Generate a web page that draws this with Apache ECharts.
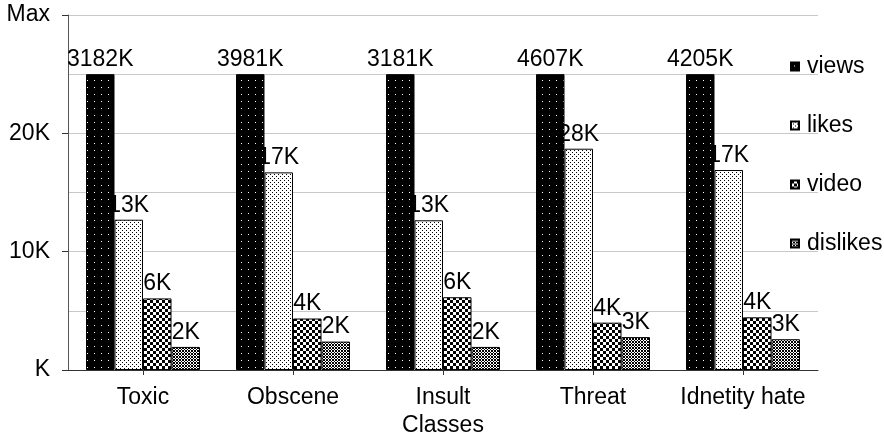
<!DOCTYPE html>
<html>
<head>
<meta charset="utf-8">
<style>html,body{margin:0;padding:0;background:#fff;}#chart{width:884px;height:433px;}</style>
<script src="https://cdn.jsdelivr.net/npm/echarts@6/dist/echarts.min.js"></script>
</head>
<body>
<div id="chart"></div>
<script>
// ---- data ----
const categories = ['Toxic', 'Obscene', 'Insult', 'Threat', 'Idnetity hate'];
const axisName = 'Classes';
const seriesNames = ['views', 'likes', 'video', 'dislikes'];
// views bars are drawn cut off at the 25K line
const viewsDrawn = [25000, 25000, 25000, 25000, 25000];
const likes = [12700, 16700, 12650, 18700, 16900];
const video = [6050, 4350, 6150, 4000, 4450];
const dislikes = [1950, 2400, 1950, 2780, 2600];
const viewsLabels = ['3182K', '3981K', '3181K', '4607K', '4205K'];
const likesLabels = ['13K', '17K', '13K', '28K', '17K'];
const videoLabels = ['6K', '4K', '6K', '4K', '4K'];
const dislikesLabels = ['2K', '2K', '2K', '3K', '3K'];
const yTickValues = [0, 10000, 20000, 30000];
const yTickLabels = ['K', '10K', '20K', 'Max'];

// ---- patterns ----
function makeTile(w, h, bg, fg, pts) {
  const c = document.createElement('canvas');
  c.width = w; c.height = h;
  const ctx = c.getContext('2d');
  ctx.fillStyle = bg; ctx.fillRect(0, 0, w, h);
  ctx.fillStyle = fg;
  pts.forEach(p => ctx.fillRect(p[0], p[1], p[2] || 1, p[3] || 1));
  return { image: c, repeat: 'repeat' };
}
const patViews = makeTile(7, 7, '#000', '#fff', [[3, 3]]);
const patLikes = makeTile(4, 4, '#fff', '#000', [[0, 0], [2, 2]]);
const patVideo = makeTile(6, 6, '#fff', '#000', [[0, 0, 3, 3], [3, 3, 3, 3]]);
const patDislikes = makeTile(3, 3, '#000', '#fff', [[1, 0], [0, 1], [2, 1], [1, 2]]);

const FONT = 'Liberation Sans, Arial, sans-serif';
const FS = 23;

function bar(name, data, labels, pattern, zlevel) {
  return {
    name: name,
    type: 'bar',
    zlevel: zlevel,
    barGap: '0%',
    barCategoryGap: '24%',
    data: data,
    itemStyle: { color: pattern, borderColor: '#000', borderWidth: 1 },
    label: {
      show: true,
      position: 'top',
      distance: 3,
      color: '#000',
      fontFamily: FONT,
      fontSize: FS,
      formatter: p => labels[p.dataIndex]
    }
  };
}

const chart = echarts.init(document.getElementById('chart'), null, { renderer: 'canvas' });
chart.setOption({
  animation: false,
  backgroundColor: '#fff',
  grid: { left: 68, right: 66, top: 15, bottom: 63, containLabel: false, outerBoundsMode: 'none' },
  legend: {
    orient: 'vertical',
    left: 785,
    top: 50,
    itemWidth: 8,
    itemHeight: 8,
    itemGap: 36,
    icon: 'rect',
    data: seriesNames,
    textStyle: { color: '#000', fontFamily: FONT, fontSize: FS, padding: [0, 0, 0, 3] }
  },
  xAxis: {
    type: 'category',
    data: categories,
    name: axisName,
    nameLocation: 'middle',
    nameGap: 33,
    nameTextStyle: { color: '#000', fontFamily: FONT, fontSize: FS },
    axisLine: { lineStyle: { color: '#333', width: 1 } },
    axisTick: { show: true, alignWithLabel: true, length: 5, lineStyle: { color: '#333' } },
    axisLabel: { interval: 0, color: '#000', fontFamily: FONT, fontSize: FS, margin: 16 }
  },
  yAxis: {
    type: 'value',
    min: 0,
    max: 30000,
    interval: 10000,
    axisLine: { show: true, lineStyle: { color: '#555', width: 1 } },
    axisTick: { show: true, length: 6, lineStyle: { color: '#333' } },
    minorTick: { show: false, splitNumber: 2 },
    splitLine: { show: true, lineStyle: { color: '#c8c8c8', width: 1 } },
    minorSplitLine: { show: true, lineStyle: { color: '#c8c8c8', width: 1 } },
    axisLabel: {
      color: '#000', fontFamily: FONT, fontSize: FS, margin: 18,
      formatter: v => { const i = yTickValues.indexOf(v); return i >= 0 ? yTickLabels[i] : ''; }
    }
  },
  series: [
    bar(seriesNames[0], viewsDrawn, viewsLabels, patViews, 1),
    bar(seriesNames[1], likes, likesLabels, patLikes, 0),
    bar(seriesNames[2], video, videoLabels, patVideo, 0),
    bar(seriesNames[3], dislikes, dislikesLabels, patDislikes, 0)
  ]
});
</script>
</body>
</html>
